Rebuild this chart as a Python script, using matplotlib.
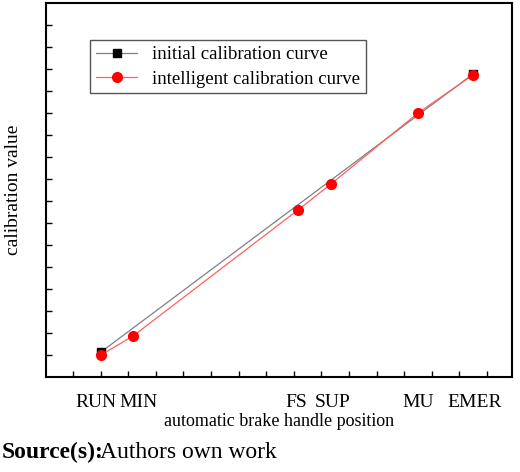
import matplotlib
matplotlib.use("Agg")
import matplotlib.pyplot as plt
import matplotlib.transforms as mtransforms
import numpy as np

plt.rcParams['font.family'] = ['Liberation Serif', 'DejaVu Serif']

categories = ["RUN", "MIN", "FS", "SUP", "MU", "EMER"]
cat_x = [101, 133, 298, 331, 418, 473]
init_x = [101, 473]
init_y = [25, 303]
intel_y = [22, 41, 167, 193, 264, 302]

fig = plt.figure(figsize=(5.2, 4.72), dpi=100)
W, H = 520, 472
ax = fig.add_axes([46 / W, 1 - 377 / H, (512 - 46) / W, (377 - 3) / H])
ax.plot(init_x, init_y, color='#808080', lw=0.9, marker='s', ms=6, mfc='black', mec='black',
        label='initial calibration curve', zorder=2)
ax.plot(cat_x, intel_y, color='#ff6060', lw=0.9, marker='o', ms=7, mfc='red', mec='red',
        label='intelligent calibration curve', zorder=3)
ax.set_xlim(46, 512)
ax.set_ylim(0, 374)
ax.set_yticks(np.arange(22, 374, 22))
ax.set_yticklabels([])
ax.set_xticks(cat_x)
ax.set_xticklabels(categories, fontsize=14)
ax.set_xticks(np.arange(73, 512, 27.6), minor=True)
ax.tick_params(axis='both', which='both', direction='in', length=4, width=1)
ax.tick_params(axis='x', which='major', length=0, pad=12)
offs = [-5, 6, -2, 2, 0, 2]
for lbl, o in zip(ax.get_xticklabels(), offs):
    lbl.set_transform(lbl.get_transform() + mtransforms.ScaledTranslation(o / 100, 0, fig.dpi_scale_trans))
for s in ax.spines.values():
    s.set_linewidth(1.5)
ax.set_xlabel('automatic brake handle position', fontsize=13, labelpad=2)
ax.set_ylabel('calibration value', fontsize=14, labelpad=14)
leg = ax.legend(loc='upper left', bbox_to_anchor=(0.075, 0.925), fontsize=13.5, fancybox=False,
                edgecolor='#555555', framealpha=1, handlelength=2.2, borderpad=0.3,
                labelspacing=0.4)
leg.get_frame().set_linewidth(1)
fig.text(2 / W, 1 - 452 / H, 'Source(s):', fontsize=17, fontweight='bold', va='center')
fig.text(100 / W, 1 - 452 / H, 'Authors own work', fontsize=17, va='center')
fig.savefig('out.png', dpi=100)
